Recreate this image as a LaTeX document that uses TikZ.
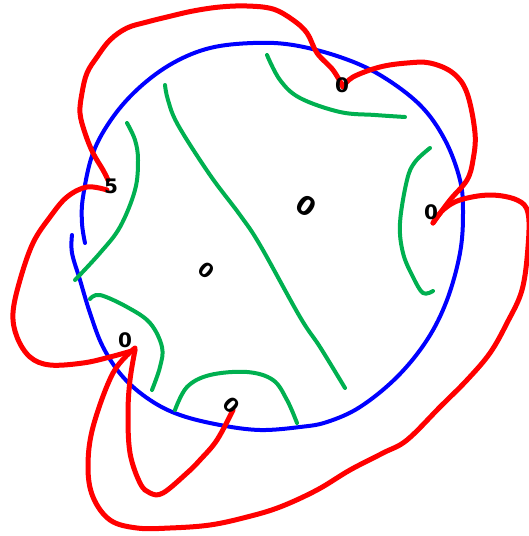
\documentclass[tikz,border=0pt]{standalone}
\usepackage{fontspec}
\setmainfont{DejaVu Sans}
\definecolor{pgreen}{RGB}{0,176,80}
\tikzset{
  bl/.style={draw=blue, line width=4pt, line cap=round, line join=round},
  gr/.style={draw=pgreen, line width=4pt, line cap=round, line join=round},
  rd/.style={draw=red, line width=5pt, line cap=round, line join=round},
  lab/.style={font=\fontsize{20}{20}\selectfont\bfseries, inner sep=0pt, text=black}
}
\begin{document}
\begin{tikzpicture}[x=1pt,y=-1pt]
\useasboundingbox (0,0) rectangle (529,536);
% blue
\draw[bl] plot[smooth,tension=0.6] coordinates {(85,243) (82,223) (83,197) (93,153) (113,117) (140,87) (173,63) (210,48) (253,43) (293,45) (340,57) (380,75) (420,105) (445,140) (460,180) (463,213) (460,253) (447,300) (427,340) (397,377) (360,407) (327,422) (300,427) (260,430) (220,425) (180,415) (150,400) (123,377) (103,347) (90,313) (80,280) (72,253) (72,235)};
% green
\draw[gr] plot[smooth,tension=0.6] coordinates {(267,55) (280,80) (300,98) (340,112) (375,115) (405,117)};
\draw[gr] plot[smooth,tension=0.6] coordinates {(165,85) (168,100) (178,125) (210,175) (240,215) (260,245) (300,317) (320,347) (345,388)};
\draw[gr] plot[smooth,tension=0.6] coordinates {(127,123) (135,140) (138,160) (135,190) (120,227) (100,253) (75,280)};
\draw[gr] plot[smooth,tension=0.6] coordinates {(430,148) (415,162) (407,180) (400,223) (403,253) (413,277) (423,293) (433,291)};
\draw[gr] plot[smooth,tension=0.6] coordinates {(90,299) (100,295) (127,307) (150,323) (162,347) (160,367) (152,390)};
\draw[gr] plot[smooth,tension=0.6] coordinates {(175,410) (187,387) (210,375) (247,372) (273,380) (287,400) (297,423)};
% red
\draw[rd] plot[smooth,tension=0.6] coordinates {(343,87) (333,70) (317,53) (307,33) (293,20) (273,9) (247,6) (220,7) (193,11) (167,17) (147,22) (127,28) (110,40) (97,57) (87,73) (82,93) (80,113) (85,133) (93,153) (103,170) (108,180)};
\draw[rd] plot[smooth,tension=0.6] coordinates {(107,190) (87,187) (67,197) (50,217) (33,243) (20,280) (13,313) (17,337) (30,357) (50,365) (83,363) (110,357) (135,350)};
\draw[rd] plot[smooth,tension=0.6] coordinates {(135,350) (130,380) (128,413) (130,453) (140,483) (150,493) (163,493) (187,473) (200,460) (217,440) (233,410)};
\draw[rd] plot[smooth,tension=0.6] coordinates {(135,348) (113,373) (93,427) (88,467) (93,497) (110,520) (137,528) (170,528) (210,525) (247,517) (280,507) (317,490) (350,470) (383,453) (407,440) (440,407) (467,380) (490,353) (507,323) (522,290) (528,247) (528,213) (517,200) (490,195) (460,200) (443,210) (433,223)};
\draw[rd] plot[smooth,tension=0.6] coordinates {(433,223) (450,200) (467,180) (473,160) (475,133) (467,93) (453,73) (430,63) (407,63) (380,67) (353,77) (343,87)};
% labels
\node[lab] (l1) at (342,85) {0};
\node[lab] (l2) at (431,212) {0};
\node[lab, font=\fontsize{26}{26}\selectfont\bfseries, rotate=-35] (l3) at (306,206) {0};
\node[lab, rotate=-40] (l4) at (207,270) {0};
\node[lab] (l5) at (125,340) {0};
\node[lab, rotate=-45] (l6) at (232,405) {0};
\node[lab] (l7) at (111,186) {5};
\end{tikzpicture}
\end{document}
